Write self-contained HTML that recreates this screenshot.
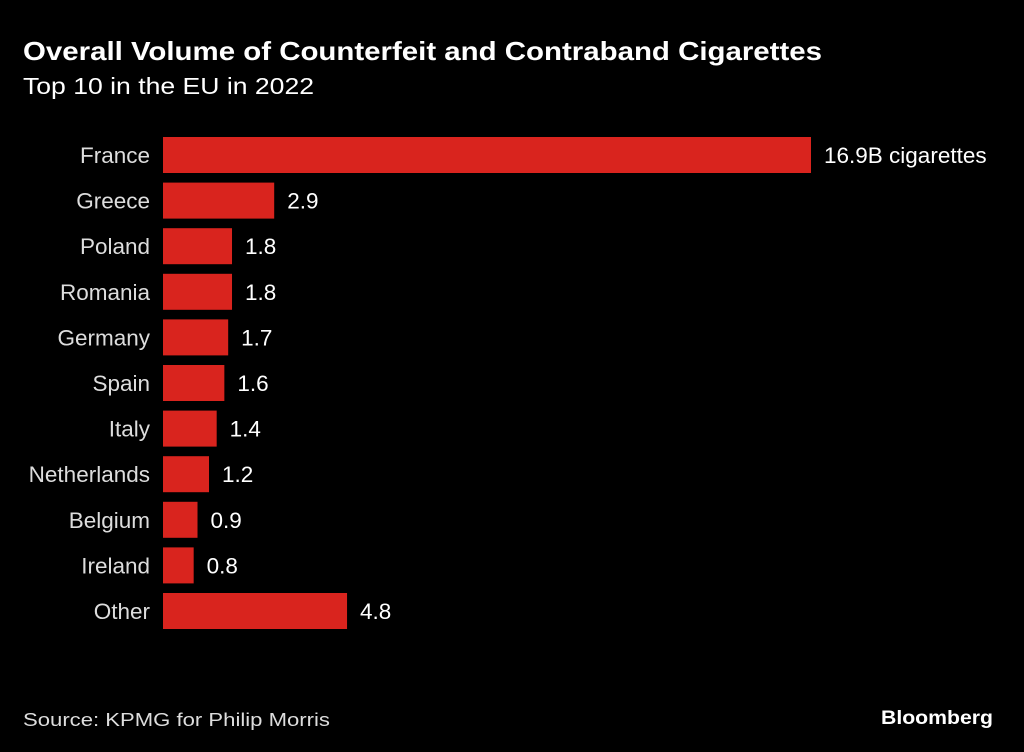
<!DOCTYPE html>
<html><head><meta charset="utf-8"><style>
html,body{margin:0;padding:0;background:#000;}
svg{display:block;font-family:"Liberation Sans",sans-serif;}
</style></head><body>
<svg width="1024" height="752" viewBox="0 0 1024 752">
<rect width="1024" height="752" fill="#000"/>
<text x="23" y="60" fill="#fff" font-size="26" font-weight="bold" textLength="799" lengthAdjust="spacingAndGlyphs">Overall Volume of Counterfeit and Contraband Cigarettes</text>
<text x="23" y="94" fill="#fff" font-size="23" textLength="291" lengthAdjust="spacingAndGlyphs">Top 10 in the EU in 2022</text>
<g id="bars"></g>
<text x="23" y="726" fill="#ddd" font-size="18" textLength="307" lengthAdjust="spacingAndGlyphs">Source: KPMG for Philip Morris</text>
<text x="993" y="724" fill="#fff" font-size="19" font-weight="bold" text-anchor="end" textLength="112" lengthAdjust="spacingAndGlyphs">Bloomberg</text>
</svg>
<script>
const categories=["France","Greece","Poland","Romania","Germany","Spain","Italy","Netherlands","Belgium","Ireland","Other"];
const values=[16.9,2.9,1.8,1.8,1.7,1.6,1.4,1.2,0.9,0.8,4.8];
const valueLabels=["16.9B cigarettes","2.9","1.8","1.8","1.7","1.6","1.4","1.2","0.9","0.8","4.8"];
const ns="http://www.w3.org/2000/svg";
const x0=163, xScale=648/16.9;
const x=v=>x0+v*xScale;
const y=i=>137+i*45.6;
const barH=36;
const g=document.getElementById('bars');
categories.forEach((c,i)=>{
  const r=document.createElementNS(ns,'rect');
  r.setAttribute('x',x0);r.setAttribute('y',y(i));
  r.setAttribute('width',x(values[i])-x0);r.setAttribute('height',barH);
  r.setAttribute('fill','#d9241e');
  
  
  g.appendChild(r);
  const t=document.createElementNS(ns,'text');
  t.setAttribute('x',150);t.setAttribute('y',y(i)+26);
  t.setAttribute('text-anchor','end');t.setAttribute('fill','#ddd');t.setAttribute('font-size','22.5');
  t.textContent=c;
  
  
  g.appendChild(t);
  const v=document.createElementNS(ns,'text');
  v.setAttribute('x',x(values[i])+13);v.setAttribute('y',y(i)+26);
  v.setAttribute('fill','#fff');v.setAttribute('font-size','22.5');
  v.textContent=valueLabels[i];
  
  
  g.appendChild(v);
});
</script>
</body></html>
